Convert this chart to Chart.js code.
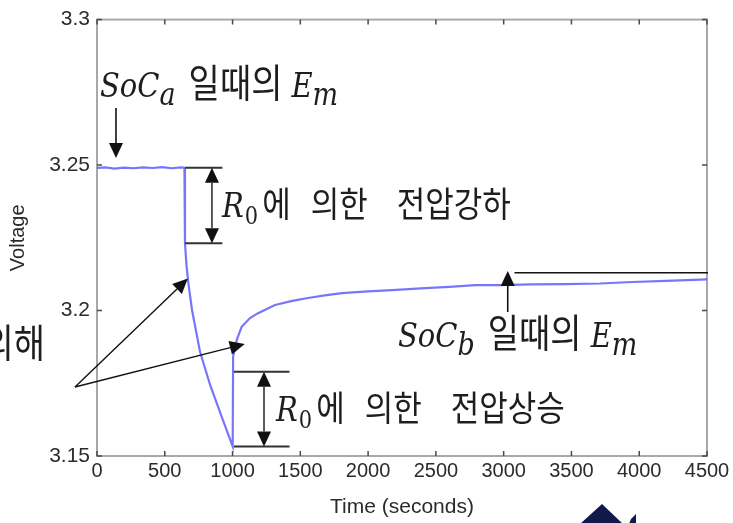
<!DOCTYPE html>
<html>
<head>
<meta charset="utf-8">
<script src="https://cdn.jsdelivr.net/npm/chart.js@4/dist/chart.umd.min.js"></script>
<style>
  html, body { margin: 0; padding: 0; background: #fff; overflow: hidden; }
  canvas { display: block; }
</style>
</head>
<body>
<canvas id="c" width="733" height="523"></canvas>
<script>
// Terminal voltage during a constant-current pulse and the relaxation after it
const timeSeconds = [0, 60, 130, 200, 270, 340, 410, 480, 550, 620, 645,
  649, 660, 674, 701, 760, 834, 908, 1001,
  1004, 1031, 1067, 1129, 1188, 1313, 1440, 1557, 1680, 1807, 2000, 2176,
  2420, 2600, 2789, 2973, 3200, 3450, 3711, 3950, 4200, 4500];
const voltage = [3.2490, 3.2492, 3.2488, 3.2491, 3.2489, 3.2492, 3.2490, 3.2493, 3.2489, 3.2492, 3.2491,
  3.2231, 3.2156, 3.2094, 3.2002, 3.1858, 3.1745, 3.1650, 3.1533,
  3.1841, 3.1899, 3.1944, 3.1974, 3.1991, 3.2019, 3.2033, 3.2043, 3.2052, 3.2060, 3.2066, 3.2070,
  3.2077, 3.2081, 3.2087, 3.2087, 3.2090, 3.2091, 3.2093, 3.2098, 3.2102, 3.2107];

const xTickValues = [0, 500, 1000, 1500, 2000, 2500, 3000, 3500, 4000, 4500];
const yTickValues = [3.15, 3.2, 3.25, 3.3];
const yTickLabels = ['3.15', '3.2', '3.25', '3.3'];

const SANS = '"Liberation Sans", Arial, sans-serif';
const KO = '"Noto Sans CJK KR", sans-serif';
const SERIF = '"DejaVu Serif", serif';
const AXIS_TEXT = '#2b2b2b';

// Box around the plot with MATLAB-style inward tick marks
const framePlugin = {
  id: 'frame',
  beforeDatasetsDraw(chart) {
    const { ctx, chartArea: a, scales: { x, y } } = chart;
    ctx.save();
    ctx.strokeStyle = '#a8a8a8';
    ctx.lineWidth = 2;
    ctx.strokeRect(a.left, a.top, a.right - a.left, a.bottom - a.top);
    ctx.strokeStyle = '#4a4a4a';
    ctx.lineWidth = 1.5;
    ctx.beginPath();
    xTickValues.forEach(v => {
      const px = x.getPixelForValue(v);
      ctx.moveTo(px, a.bottom); ctx.lineTo(px, a.bottom - 5);
      ctx.moveTo(px, a.top); ctx.lineTo(px, a.top + 5);
    });
    yTickValues.forEach(v => {
      const py = y.getPixelForValue(v);
      ctx.moveTo(a.left, py); ctx.lineTo(a.left + 5, py);
      ctx.moveTo(a.right, py); ctx.lineTo(a.right - 5, py);
    });
    ctx.stroke();
    ctx.restore();
  }
};

function arrowHead(ctx, x1, y1, x2, y2, len, half) {
  const ang = Math.atan2(y2 - y1, x2 - x1);
  const bx = x2 - len * Math.cos(ang), by = y2 - len * Math.sin(ang);
  ctx.beginPath();
  ctx.moveTo(x2, y2);
  ctx.lineTo(bx + half * Math.sin(ang), by - half * Math.cos(ang));
  ctx.lineTo(bx - half * Math.sin(ang), by + half * Math.cos(ang));
  ctx.closePath();
  ctx.fill();
  return [bx, by];
}

function arrow(ctx, x1, y1, x2, y2, len, half, width) {
  ctx.lineWidth = width;
  const [bx, by] = arrowHead(ctx, x1, y1, x2, y2, len, half);
  ctx.beginPath();
  ctx.moveTo(x1, y1); ctx.lineTo(bx, by);
  ctx.stroke();
}

function doubleArrow(ctx, x, y1, y2, len, half, width) {
  ctx.lineWidth = width;
  arrowHead(ctx, x, y2, x, y1, len, half);
  arrowHead(ctx, x, y1, x, y2, len, half);
  ctx.beginPath();
  ctx.moveTo(x, y1 + len); ctx.lineTo(x, y2 - len);
  ctx.stroke();
}

// Draws a run of mixed math / Korean text starting at (x, baseline)
function textRun(ctx, x, y, parts, align) {
  ctx.save();
  let total = 0;
  parts.forEach(p => { ctx.font = p.font; total += ctx.measureText(p.t).width + (p.gap || 0); });
  ctx.translate(align === 'right' ? x - total : x, y);
  ctx.scale(1, 1.14);
  ctx.textBaseline = 'alphabetic';
  ctx.textAlign = 'left';
  let cx = 0;
  parts.forEach(p => {
    ctx.font = p.font;
    ctx.fillText(p.t, cx, p.dy || 0);
    cx += ctx.measureText(p.t).width + (p.gap || 0);
  });
  ctx.restore();
}

const MATH = 'italic 29px ' + SERIF;
const SUB = 'italic 27px ' + SERIF;
const SUB0 = '21px ' + SERIF;
const KO_EM = '34px ' + KO;
const KO_R = '31px ' + KO;

function emLabel(sub) {
  return [
    { t: 'SoC', font: MATH, gap: 0 },
    { t: sub, font: SUB, dy: 7, gap: 13 },
    { t: '일때의', font: KO_EM, gap: 9 },
    { t: 'E', font: MATH, gap: 0 },
    { t: 'm', font: SUB, dy: 7 }
  ];
}
function r0Label(last) {
  return [
    { t: 'R', font: MATH, gap: 1 },
    { t: '0', font: SUB0, dy: 6, gap: 4 },
    { t: '에', font: KO_R, gap: 20 },
    { t: '의한', font: KO_R, gap: 29 },
    { t: last, font: KO_R }
  ];
}

const notesPlugin = {
  id: 'notes',
  afterDraw(chart) {
    const { ctx, chartArea: a, scales: { x, y } } = chart;
    const X = t => x.getPixelForValue(t);
    const Y = v => y.getPixelForValue(v);
    ctx.save();
    ctx.fillStyle = '#1e1e1e';

    // open-circuit voltage before the pulse
    textRun(ctx, 100, 97, emLabel('a'));
    ctx.strokeStyle = '#111'; ctx.fillStyle = '#111';
    arrow(ctx, X(140), 108, X(140), 158, 15, 7, 1.6);

    // ohmic drop when the current starts
    const dropTop = Y(voltage[10]), dropBot = Y(voltage[11]);
    ctx.strokeStyle = '#333'; ctx.fillStyle = '#111';
    ctx.lineWidth = 2;
    ctx.beginPath();
    ctx.moveTo(X(650), dropTop); ctx.lineTo(X(925), dropTop);
    ctx.moveTo(X(650), dropBot); ctx.lineTo(X(925), dropBot);
    ctx.stroke();
    doubleArrow(ctx, X(848), dropTop, dropBot, 15, 7, 1.6);
    ctx.fillStyle = '#1e1e1e';
    textRun(ctx, 222, 217, r0Label('전압강하'));

    // ohmic rise when the current stops
    const riseTop = Y(3.1790), riseBot = Y(voltage[18]);
    ctx.strokeStyle = '#333'; ctx.fillStyle = '#111';
    ctx.lineWidth = 2;
    ctx.beginPath();
    ctx.moveTo(X(1010), riseTop); ctx.lineTo(X(1420), riseTop);
    ctx.moveTo(X(1010), riseBot); ctx.lineTo(X(1420), riseBot);
    ctx.stroke();
    doubleArrow(ctx, X(1232), riseTop, riseBot, 15, 7, 1.6);
    ctx.fillStyle = '#1e1e1e';
    textRun(ctx, 276, 421, r0Label('전압상승'));

    // open-circuit voltage after relaxation
    ctx.strokeStyle = '#111'; ctx.fillStyle = '#111';
    ctx.lineWidth = 1.6;
    ctx.beginPath();
    ctx.moveTo(X(3080), Y(3.2130)); ctx.lineTo(a.right + 1, Y(3.2130));
    ctx.stroke();
    arrow(ctx, X(3030), 312, X(3030), 271, 15, 7, 1.6);
    ctx.fillStyle = '#1e1e1e';
    textRun(ctx, 398, 347, emLabel('b'));

    // polarisation (RC) pointers
    ctx.strokeStyle = '#111'; ctx.fillStyle = '#111';
    arrow(ctx, 75, 387, X(670), Y(3.2110), 15, 7, 1.4);
    arrow(ctx, 75, 387, X(1090), Y(3.1885), 15, 7, 1.4);
    ctx.fillStyle = '#1e1e1e';
    textRun(ctx, 45, 357, [{ t: '의해', font: KO_EM }], 'right');

    // corner mark
    ctx.fillStyle = '#11194a';
    ctx.beginPath();
    ctx.moveTo(602, 504); ctx.lineTo(580, 524); ctx.lineTo(623, 524); ctx.closePath();
    ctx.fill();
    ctx.beginPath();
    ctx.moveTo(631, 519); ctx.lineTo(636, 514); ctx.lineTo(636, 524); ctx.lineTo(629, 524); ctx.closePath();
    ctx.fill();
    ctx.restore();
  }
};

new Chart(document.getElementById('c'), {
  type: 'line',
  data: {
    datasets: [{
      data: timeSeconds.map((t, i) => ({ x: t, y: voltage[i] })),
      borderColor: 'rgba(80, 80, 250, 0.78)',
      borderWidth: 2.2,
      pointRadius: 0,
      tension: 0,
      fill: false
    }]
  },
  options: {
    responsive: false,
    animation: false,
    devicePixelRatio: 1,
    layout: { padding: { top: 18, right: 26, left: 0, bottom: 0 } },
    plugins: { legend: { display: false }, tooltip: { enabled: false } },
    scales: {
      x: {
        type: 'linear', min: 0, max: 4500,
        afterBuildTicks: s => { s.ticks = xTickValues.map(v => ({ value: v })); },
        afterFit: s => { s.height = 67; },
        ticks: {
          callback: v => String(v), autoSkip: false, maxRotation: 0,
          font: { family: SANS, size: 20 }, color: AXIS_TEXT, padding: 3
        },
        grid: { display: false, drawTicks: false },
        border: { display: false },
        title: {
          display: true, text: 'Time (seconds)',
          font: { family: SANS, size: 21 }, color: AXIS_TEXT,
          padding: { top: 0, bottom: 3 }
        }
      },
      y: {
        type: 'linear', min: 3.15, max: 3.3,
        afterBuildTicks: s => { s.ticks = yTickValues.map(v => ({ value: v })); },
        afterFit: s => { s.width = 97; },
        ticks: {
          callback: (v, i) => yTickLabels[i], autoSkip: false,
          font: { family: SANS, size: 21 }, color: AXIS_TEXT, padding: 7
        },
        grid: { display: false, drawTicks: false },
        border: { display: false },
        title: {
          display: true, text: 'Voltage',
          font: { family: SANS, size: 20 }, color: AXIS_TEXT,
          padding: { top: 6, bottom: 0 }
        }
      }
    }
  },
  plugins: [framePlugin, notesPlugin]
});
</script>
</body>
</html>
